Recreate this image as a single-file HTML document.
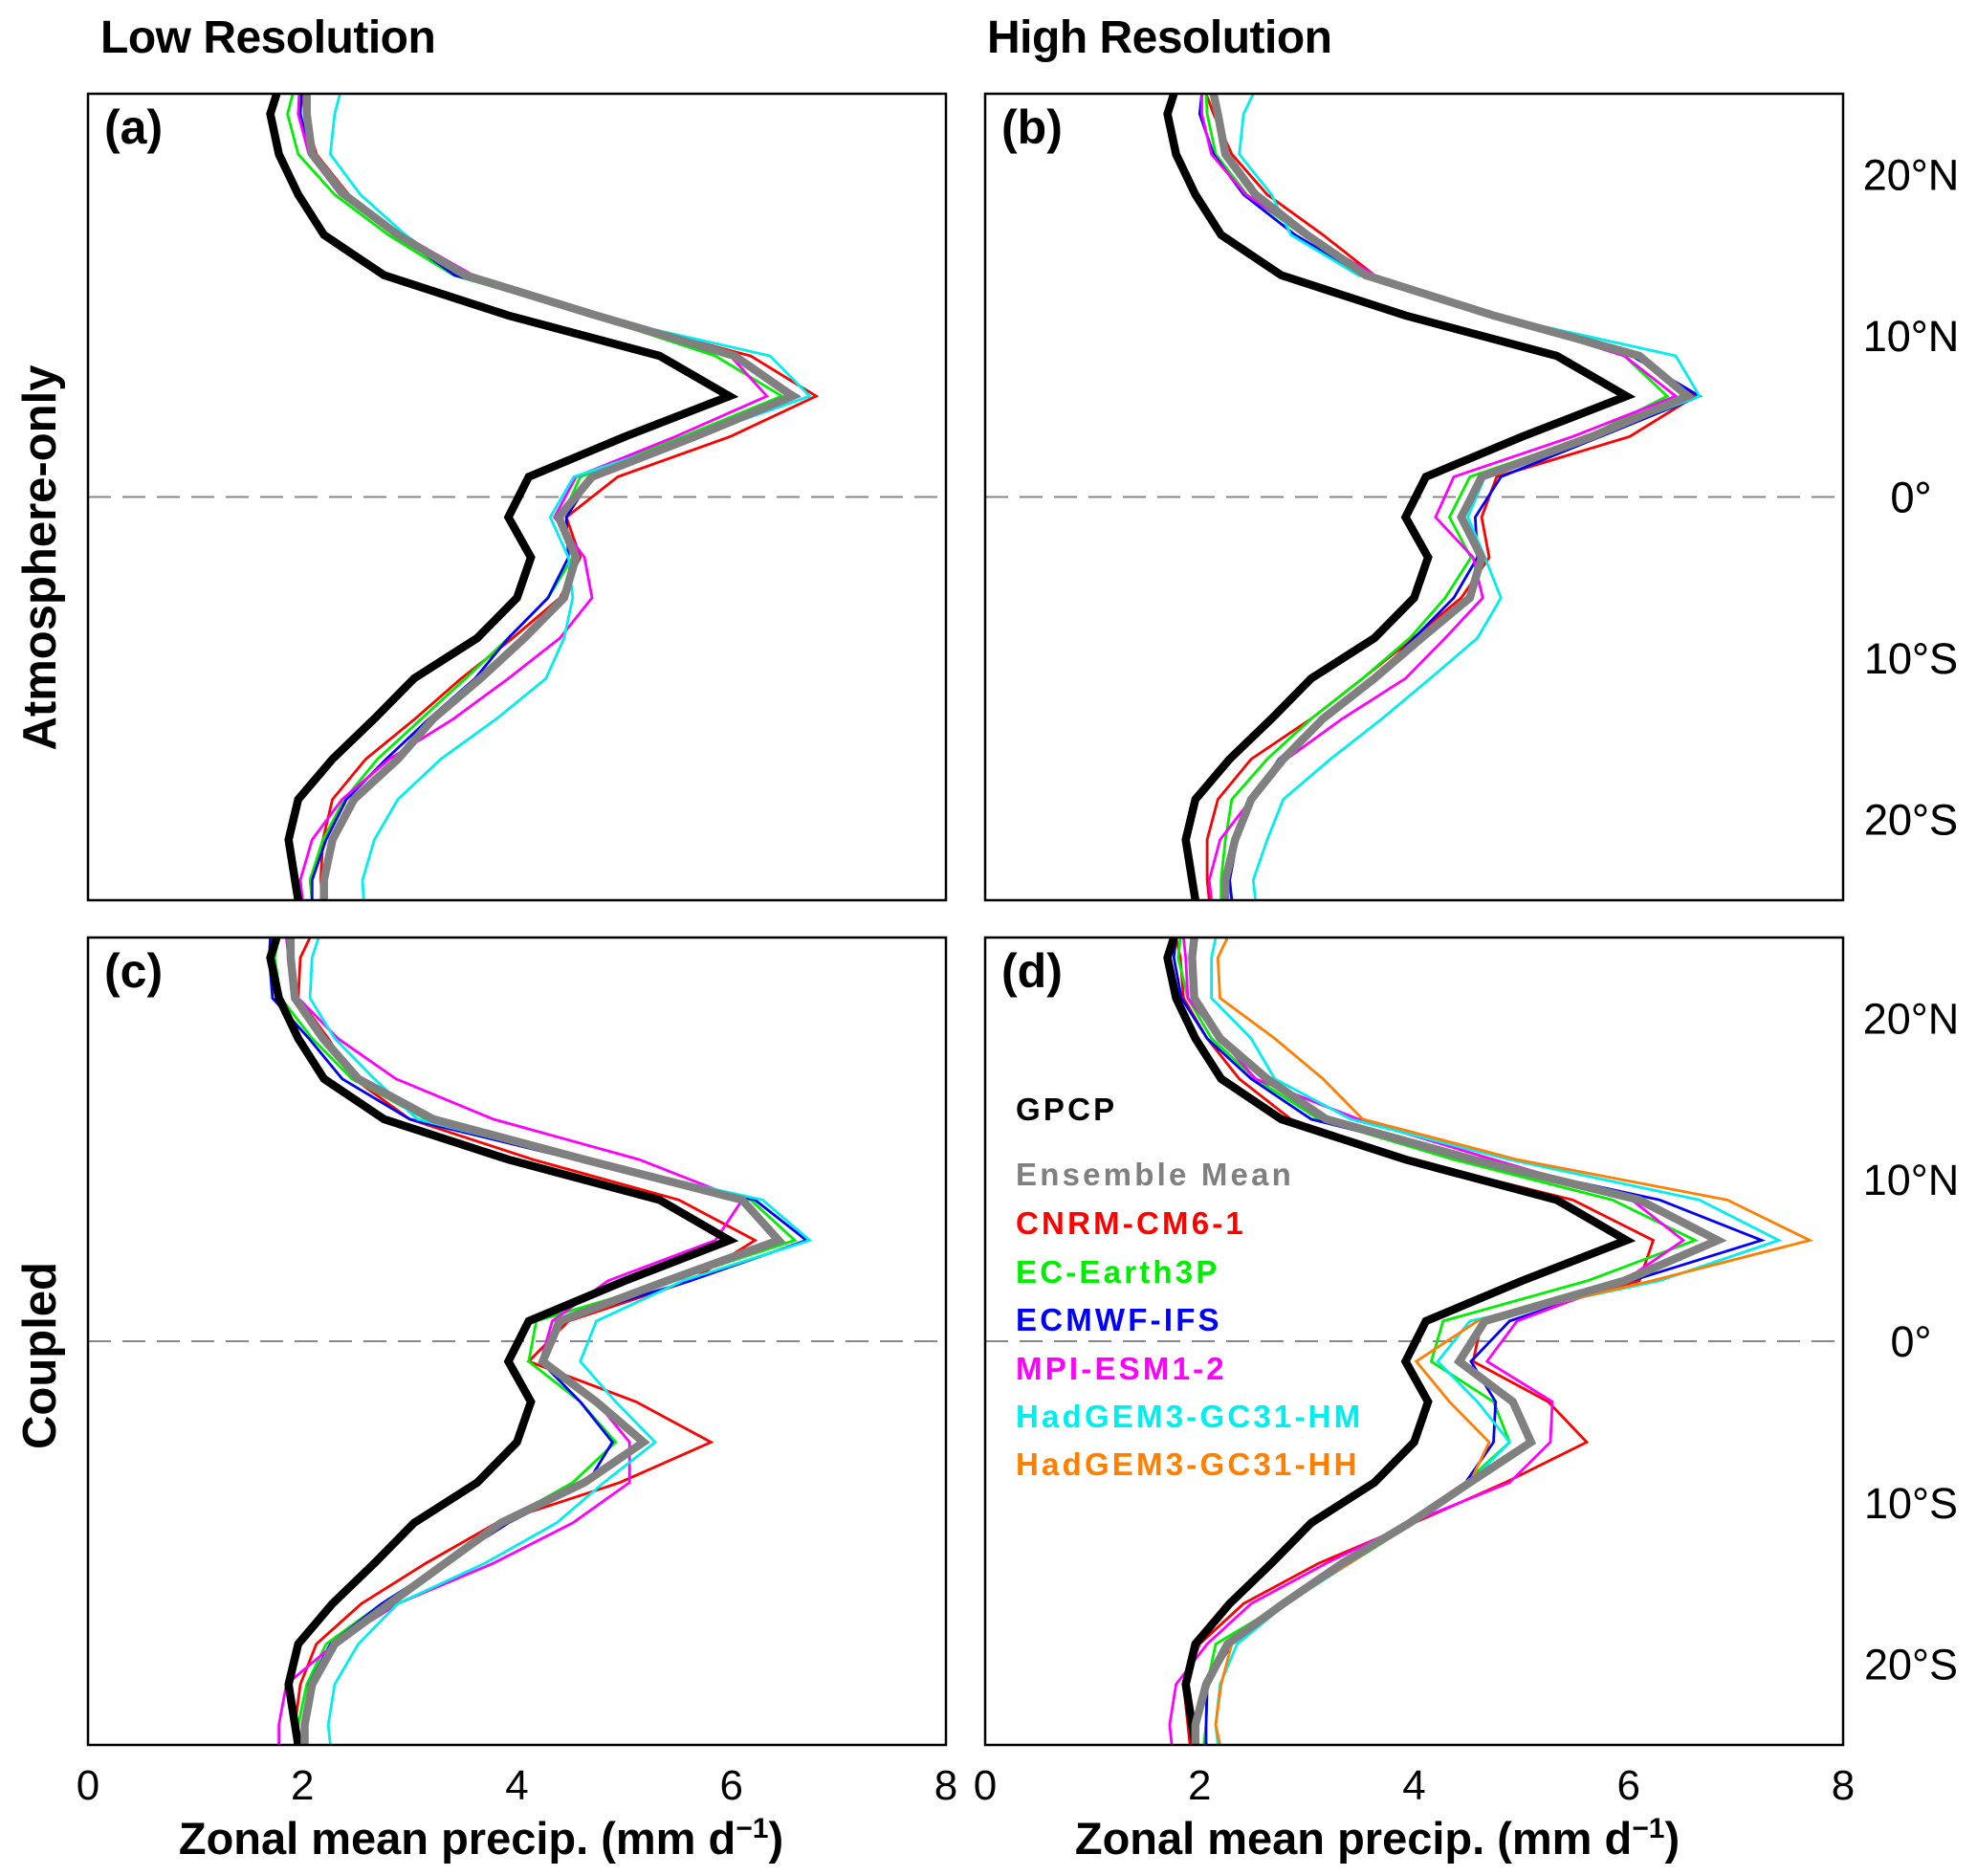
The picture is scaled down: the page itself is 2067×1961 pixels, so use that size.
<!DOCTYPE html>
<html><head><meta charset="utf-8">
<style>
html,body{margin:0;padding:0;background:#fff;}
svg{display:block;font-family:"Liberation Sans",Arial,sans-serif;}
</style></head>
<body>
<svg id="chart" width="2067" height="1961" viewBox="0 0 2067 1961" xmlns="http://www.w3.org/2000/svg">
<text x="105" y="55" font-size="48" font-weight="bold" letter-spacing="-0.5">Low Resolution</text>
<text x="1032" y="55" font-size="48" font-weight="bold" letter-spacing="-0.5">High Resolution</text>
<text transform="translate(58,583) rotate(-90)" text-anchor="middle" font-size="49" font-weight="bold">Atmosphere-only</text>
<text transform="translate(58,1417) rotate(-90)" text-anchor="middle" font-size="49" font-weight="bold">Coupled</text>
<text x="503" y="1938" text-anchor="middle" font-size="47" font-weight="bold">Zonal mean precip. (mm d<tspan dy="-17" font-size="30">−1</tspan><tspan dy="17">)</tspan></text>
<text x="1440" y="1938" text-anchor="middle" font-size="47" font-weight="bold">Zonal mean precip. (mm d<tspan dy="-17" font-size="30">−1</tspan><tspan dy="17">)</tspan></text>
<g id="panels"></g>
<g id="legend" font-size="33" font-weight="bold" letter-spacing="3.2">
<text x="1062" y="1171" fill="#000">GPCP</text>
<text x="1062" y="1239" fill="#808080">Ensemble Mean</text>
<text x="1062" y="1290" fill="#ff0000">CNRM-CM6-1</text>
<text x="1062" y="1341" fill="#00ee00">EC-Earth3P</text>
<text x="1062" y="1391" fill="#0000ff">ECMWF-IFS</text>
<text x="1062" y="1442" fill="#ff00ff">MPI-ESM1-2</text>
<text x="1062" y="1492" fill="#00eeee">HadGEM3-GC31-HM</text>
<text x="1062" y="1542" fill="#ff7f00">HadGEM3-GC31-HH</text>
</g>
</svg>
<script>
const lats = [25,23.75,21.25,18.75,16.25,13.75,11.25,8.75,6.25,3.75,1.25,-1.25,-3.75,-6.25,-8.75,-11.25,-13.75,-16.25,-18.75,-21.25,-23.75,-25];
const xTicks = [0,2,4,6,8];
const latTicks = [20,10,0,-10,-20];
const latTickLabels = ["20°N","10°N","0°","10°S","20°S"];
const gpcp = [1.76,1.70,1.78,1.96,2.20,2.76,3.92,5.33,5.98,5.01,4.11,3.92,4.13,4.00,3.63,3.04,2.67,2.28,1.96,1.87,1.93,1.96];

const aEns = [2.04,2.04,2.09,2.39,2.89,3.52,4.74,6.03,6.57,5.66,4.70,4.39,4.55,4.44,4.07,3.66,3.22,2.89,2.48,2.28,2.20,2.20];
const aCnrm = [2.00,2.02,2.13,2.43,2.85,3.48,4.74,6.18,6.79,5.99,4.94,4.46,4.59,4.40,3.96,3.48,3.05,2.59,2.28,2.19,2.17,2.19];
const aEc = [1.91,1.86,1.96,2.30,2.80,3.41,4.70,5.85,6.47,5.55,4.59,4.42,4.52,4.29,3.92,3.52,3.11,2.70,2.39,2.19,2.07,2.09];
const aIfs = [1.99,1.98,2.07,2.35,2.89,3.42,4.74,6.03,6.62,5.66,4.70,4.46,4.48,4.29,3.92,3.61,3.18,2.78,2.41,2.22,2.09,2.09];
const aMpi = [1.97,1.96,2.06,2.35,2.93,3.59,4.77,5.99,6.33,5.48,4.55,4.35,4.63,4.70,4.40,3.92,3.41,2.81,2.37,2.09,1.98,2.00];
const aHm = [2.35,2.30,2.26,2.54,2.96,3.48,4.70,6.36,6.73,5.66,4.53,4.31,4.48,4.52,4.44,4.27,3.81,3.29,2.89,2.67,2.56,2.57];

const bEns = [2.13,2.17,2.24,2.52,3.00,3.55,4.74,6.10,6.55,5.66,4.63,4.44,4.63,4.52,4.07,3.63,3.15,2.78,2.48,2.33,2.24,2.24];
const bCnrm = [2.06,2.13,2.30,2.63,3.15,3.63,4.74,6.07,6.62,6.01,4.77,4.63,4.70,4.44,3.99,3.52,3.04,2.48,2.17,2.07,2.07,2.09];
const bEc = [2.06,2.07,2.15,2.44,2.96,3.55,4.74,5.96,6.36,5.62,4.52,4.33,4.53,4.29,3.96,3.52,3.04,2.63,2.30,2.24,2.20,2.20];
const bIfs = [2.02,2.00,2.13,2.41,2.89,3.52,4.74,6.03,6.66,5.74,4.81,4.57,4.59,4.37,4.00,3.63,3.15,2.74,2.48,2.35,2.28,2.30];
const bMpi = [2.02,2.02,2.11,2.43,3.00,3.63,4.77,5.96,6.44,5.48,4.37,4.20,4.55,4.64,4.29,3.92,3.33,2.81,2.48,2.19,2.09,2.11];
const bHm = [2.50,2.41,2.37,2.67,2.85,3.48,4.74,6.44,6.66,5.66,4.66,4.50,4.66,4.81,4.59,4.15,3.70,3.22,2.78,2.63,2.50,2.52];

const cEns = [1.89,1.89,1.93,2.19,2.52,3.22,4.63,6.10,6.44,5.40,4.40,4.24,4.74,5.18,4.63,3.85,3.33,2.81,2.30,2.09,2.02,2.02];
const cCnrm = [2.07,1.98,1.96,2.24,2.48,3.00,4.15,5.51,6.22,5.62,4.48,4.11,5.11,5.81,4.96,3.81,3.15,2.55,2.13,1.98,1.93,1.93];
const cEc = [1.78,1.74,1.80,2.09,2.46,3.15,4.59,6.18,6.59,5.44,4.18,4.11,4.59,4.92,4.52,3.85,3.33,2.74,2.22,2.04,1.96,1.96];
const cIfs = [1.70,1.69,1.72,2.06,2.37,3.00,4.55,6.22,6.70,5.62,4.37,4.22,4.59,4.89,4.66,3.92,3.33,2.74,2.26,2.06,2.04,2.04];
const cMpi = [1.85,1.87,1.96,2.33,2.87,3.78,5.14,6.10,5.85,4.85,4.33,4.22,4.74,5.05,5.05,4.52,3.78,2.89,2.30,1.85,1.78,1.78];
const cHm = [2.15,2.09,2.07,2.30,2.67,3.07,4.59,6.29,6.73,5.55,4.74,4.59,4.92,5.29,4.81,4.37,3.70,2.89,2.52,2.30,2.24,2.26];

const dEns = [1.95,1.93,1.95,2.19,2.63,3.18,4.55,6.10,6.83,5.96,4.66,4.42,4.92,5.09,4.52,3.96,3.33,2.78,2.26,2.06,1.96,1.96];
const dCnrm = [1.78,1.82,1.85,2.07,2.37,2.85,3.96,5.48,6.23,6.10,4.63,4.55,5.25,5.61,4.85,4.00,3.11,2.41,2.00,1.85,1.89,1.91];
const dEc = [1.82,1.80,1.89,2.11,2.52,3.11,4.37,5.85,6.62,5.62,4.27,4.16,4.74,4.89,4.48,4.00,3.40,2.78,2.15,2.07,2.06,2.04];
const dIfs = [1.78,1.76,1.83,2.07,2.48,3.04,4.55,6.29,7.24,6.03,4.89,4.53,4.76,4.74,4.48,3.96,3.40,2.78,2.30,2.07,2.06,2.06];
const dMpi = [1.85,1.87,1.89,2.19,2.52,3.48,4.74,6.03,6.51,5.96,4.96,4.68,5.29,5.27,4.89,3.96,3.18,2.48,2.07,1.78,1.72,1.74];
const dHm = [2.15,2.11,2.11,2.48,2.70,3.41,4.89,6.66,7.40,6.29,4.52,4.22,4.59,4.89,4.52,3.96,3.40,2.81,2.35,2.19,2.15,2.17];
const dHh = [2.26,2.17,2.19,2.70,3.15,3.52,4.96,6.92,7.69,6.22,4.59,4.02,4.33,4.70,4.52,3.96,3.40,2.78,2.30,2.20,2.15,2.19];

const NS = "http://www.w3.org/2000/svg";
const root = document.getElementById('panels');
function mk(tag, attrs, parent){const e=document.createElementNS(NS,tag);for(const k in attrs)e.setAttribute(k,attrs[k]);parent.appendChild(e);return e;}

const panels = [
 {id:'a', x:92, y:98, w:897, h:843, lines:[[aCnrm,'#ff0000','cnrm'],[aEc,'#00ee00','ec-earth'],[aIfs,'#0000ff','ecmwf'],[aMpi,'#ff00ff','mpi'],[aHm,'#00eeee','hadgem-hm']], ens:aEns, right:true, bottom:false},
 {id:'b', x:1030, y:98, w:897, h:843, lines:[[bCnrm,'#ff0000','cnrm'],[bEc,'#00ee00','ec-earth'],[bIfs,'#0000ff','ecmwf'],[bMpi,'#ff00ff','mpi'],[bHm,'#00eeee','hadgem-hm']], ens:bEns, right:true, bottom:false},
 {id:'c', x:92, y:980, w:897, h:844, lines:[[cCnrm,'#ff0000','cnrm'],[cEc,'#00ee00','ec-earth'],[cIfs,'#0000ff','ecmwf'],[cMpi,'#ff00ff','mpi'],[cHm,'#00eeee','hadgem-hm']], ens:cEns, right:false, bottom:true},
 {id:'d', x:1030, y:980, w:897, h:844, lines:[[dCnrm,'#ff0000','cnrm'],[dEc,'#00ee00','ec-earth'],[dIfs,'#0000ff','ecmwf'],[dMpi,'#ff00ff','mpi'],[dHm,'#00eeee','hadgem-hm'],[dHh,'#ff7f00','hadgem-hh']], ens:dEns, right:true, bottom:true}
];

panels.forEach(p=>{
  const g = mk('g',{},root);
  
  
  const xs = v => p.x + v/8*p.w;
  const ys = lat => p.y + (25-lat)/50*p.h;
  const cid='clip'+p.id;
  const cp=mk('clipPath',{id:cid},g);
  mk('rect',{x:p.x,y:p.y,width:p.w,height:p.h},cp);
  const eq = mk('line',{x1:p.x,x2:p.x+p.w,y1:ys(0),y2:ys(0),stroke:'#888',"stroke-width":2,"stroke-dasharray":"24,12"},g);
  
  
  const lg = mk('g',{"clip-path":"url(#"+cid+")"},g);
  function draw(vals,color,w,name){
    const pts = vals.map((v,i)=>xs(v).toFixed(1)+','+ys(lats[i]).toFixed(1)).join(' ');
    const pl = mk('polyline',{points:pts,fill:'none',stroke:color,"stroke-width":w,"stroke-linejoin":"miter"},lg);
    
    
  }
  p.lines.forEach(l=>draw(l[0],l[1],2.8,l[2]));
  draw(gpcp,'#000',8.5,'gpcp');
  draw(p.ens,'#808080',8.5,'ensemble-mean');
  const fr = mk('rect',{x:p.x,y:p.y,width:p.w,height:p.h,fill:'none',stroke:'#000',"stroke-width":2.5},g);
  
  
  const lab = mk('text',{x:p.x+17,y:p.y+52,"font-size":50,"font-weight":"bold"},g);
  lab.textContent='('+p.id+')';
  
  
  if(p.right){
    latTicks.forEach((lt,i)=>{
      const t = mk('text',{x:1998,y:ys(lt)+16,"font-size":45,"text-anchor":"middle"},g);
      t.textContent=latTickLabels[i];
      
      
    });
  }
  if(p.bottom){
    xTicks.forEach(v=>{
      const t = mk('text',{x:xs(v),y:p.y+p.h+57,"font-size":44,"text-anchor":"middle"},g);
      t.textContent=String(v);
      
      
    });
  }
});
</script>
</body></html>
